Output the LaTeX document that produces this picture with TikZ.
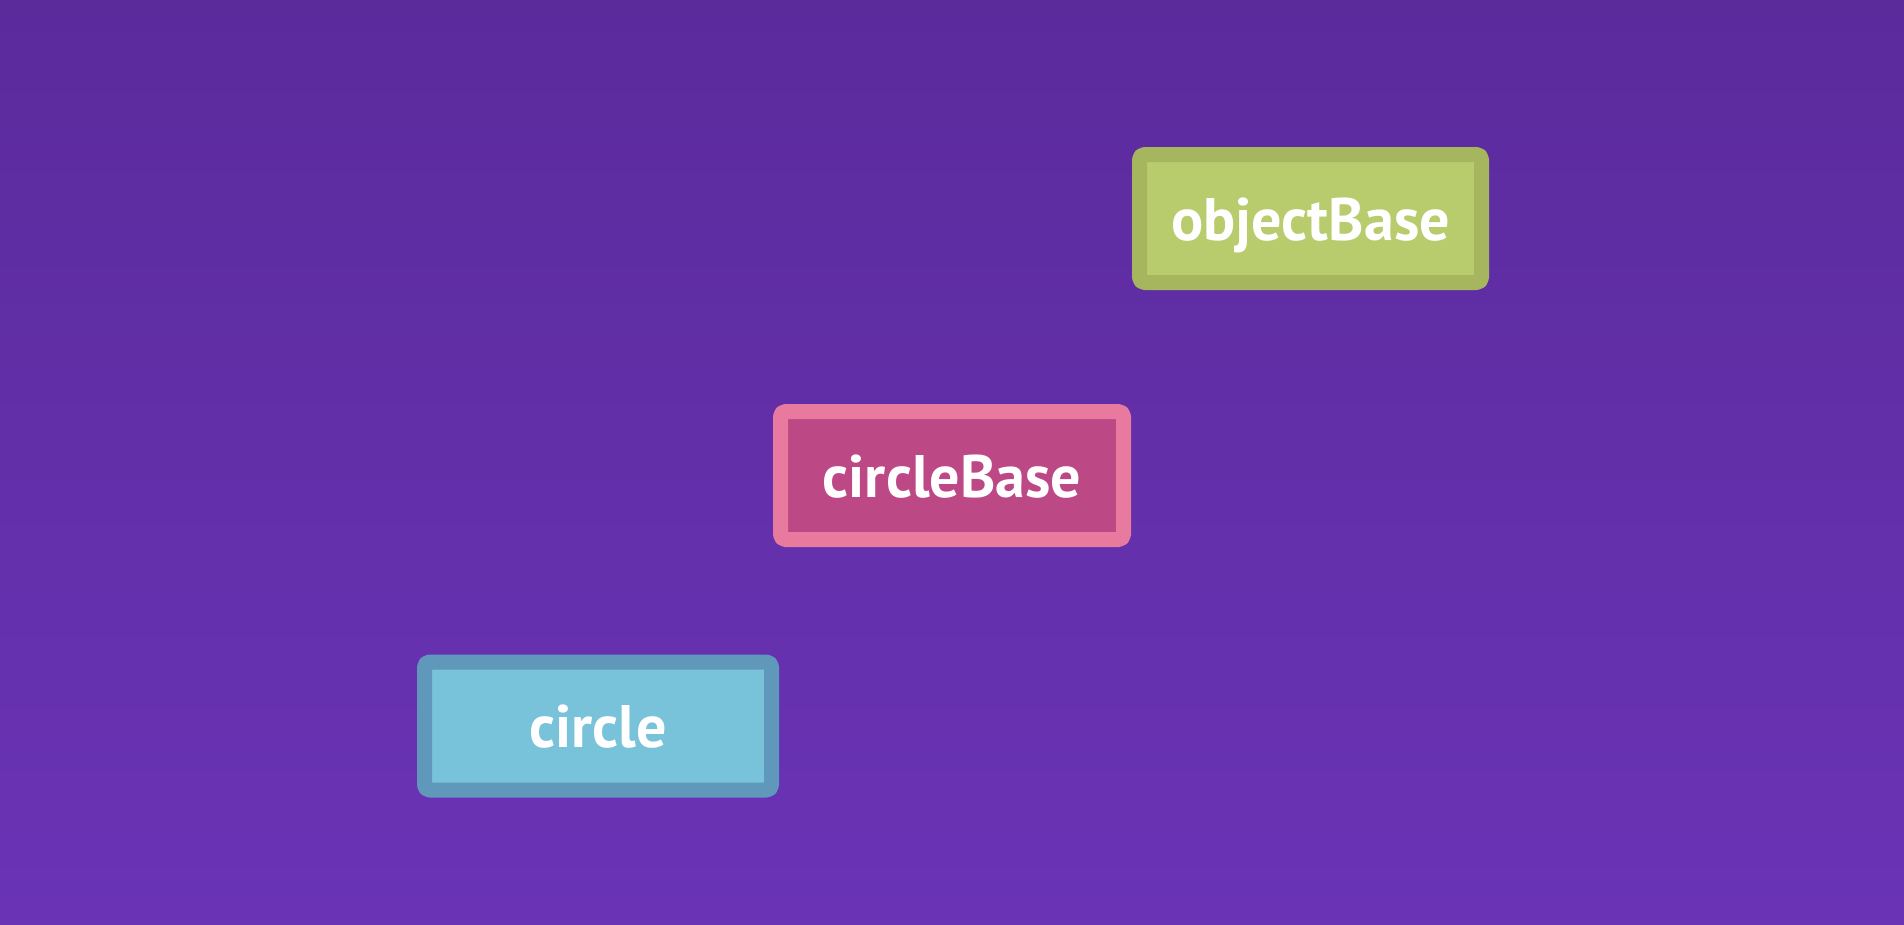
\documentclass[tikz,border=0pt]{standalone}
\usepackage{fontspec}
\setmainfont{PT Sans}
\definecolor{bgtop}{HTML}{5B2B9C}
\definecolor{bgbot}{HTML}{6A33B6}
\definecolor{obline}{HTML}{A5B65E}
\definecolor{obfill}{HTML}{B8CC6D}
\definecolor{cbline}{HTML}{E97A9F}
\definecolor{cbfill}{HTML}{BD4886}
\definecolor{ciline}{HTML}{5F98BB}
\definecolor{cifill}{HTML}{78C3DA}
\begin{document}
\begin{tikzpicture}[x=1pt,y=-1pt,
  every node/.style={rectangle,rounded corners=5pt,line width=15pt,line join=round,minimum height=128pt,
    text height=55pt,text depth=12pt,text=white,font=\fontsize{60}{68}\selectfont\bfseries}]
\fill[top color=bgtop,bottom color=bgbot] (0,0) rectangle (1904,924);
\foreach \n/\x/\y/\w/\c/\t in {ob/1310.5/218.5/342/ob/objectBase, cb/952/475.5/343/cb/circleBase, ci/598/726/347/ci/circle}
  \node[draw=\c line,fill=\c fill,minimum width=\w pt] (\n) at (\x,\y) {\t};
\end{tikzpicture}
\end{document}
